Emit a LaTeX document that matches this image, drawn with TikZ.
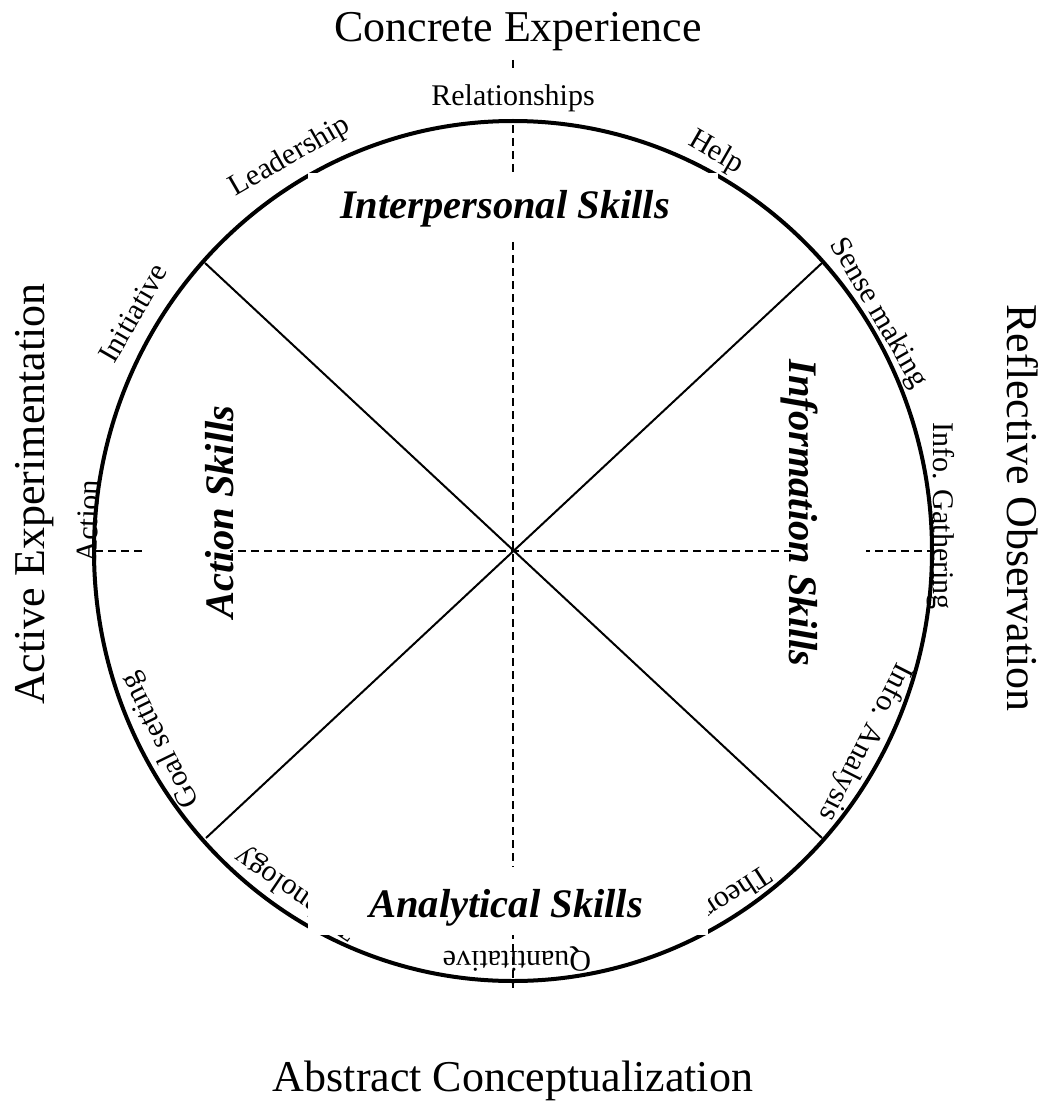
\documentclass[tikz,border=0pt]{standalone}
\usepackage{fontspec}
\setmainfont{Liberation Serif}
\begin{document}
\begin{tikzpicture}[x=0.75pt,y=-0.75pt,
  axis/.style={line width=1.2pt, dash pattern=on 6pt off 3.75pt},
  rim/.style={line width=3pt},
  spoke/.style={line width=1.5pt},
  pole/.style={font=\fontsize{33}{36}\selectfont, inner sep=0pt, anchor=base},
  arclab/.style={font=\fontsize{22.5}{25}\selectfont, inner sep=0pt},
  skill/.style={font=\fontsize{30.4}{33}\selectfont\bfseries\itshape, inner sep=0pt, anchor=base},
  cover/.style={fill=white, draw=none}]
\useasboundingbox (0,0) rectangle (1049,1109);
% axes
\coordinate (c) at (513,551);
\coordinate (top) at (513,60);
\coordinate (bot) at (513,988);
\coordinate (lft) at (95,551);
\coordinate (rgt) at (932,551);
\draw[axis] (top) -- (bot);
\draw[axis] (lft) -- (rgt);
\fill[cover] (440,68) rectangle (590,119);
% rim and spokes
\draw[rim] (c) ellipse [x radius=419, y radius=430];
\coordinate (ul) at (205,263);
\coordinate (ur) at (822,263);
\coordinate (ll) at (206,838);
\coordinate (lr) at (822,838);
\draw[spoke] (ul) -- (lr);
\draw[spoke] (ur) -- (ll);
% arc labels
\node[arclab] (rel) at (513,98) {Relationships};
\node[arclab, rotate=30] (lead) at (290,157) {Leadership};
\node[arclab, rotate=-30] (help) at (716,153) {Help};
\node[arclab, rotate=60] (init) at (133,313) {Initiative};
\node[arclab, rotate=-60] (sense) at (878,313) {Sense making};
\node[arclab, rotate=88] (act) at (88,521) {Action};
\node[arclab, rotate=-90] (gath) at (941,516) {Info. Gathering};
\node[arclab, rotate=116] (goal) at (161,740) {Goal setting};
\node[arclab, rotate=-117] (anal) at (865,742) {Info. Analysis};
\node[arclab, rotate=-147] (theo) at (731,894) {Theory};
\node[arclab, rotate=180] (quant) at (517,959) {Quantitative};
\node[arclab, rotate=146] (tech) at (297,893) {Technology};
% label boxes
\fill[cover] (308,173) rectangle (718,238);
\fill[cover] (308,867) rectangle (708,935);
\fill[cover] (147,407) rectangle (230,617);
\fill[cover] (791,409) rectangle (866,619);
% poles
\node[pole] (ce) at (518,42) {Concrete Experience};
\node[pole] (ac) at (513,1091) {Abstract Conceptualization};
\node[pole, rotate=90] (ae) at (44,494) {Active Experimentation};
\node[pole, rotate=-90] (ro) at (1007,508) {Reflective Observation};
% skills
\node[skill] (is) at (505,219) {Interpersonal Skills};
\node[skill] (an) at (506,917) {Analytical Skills};
\node[skill, rotate=90] (as) at (233,512) {Action Skills};
\node[skill, rotate=-90] (inf) at (789,513) {Information Skills};
\end{tikzpicture}
\end{document}
